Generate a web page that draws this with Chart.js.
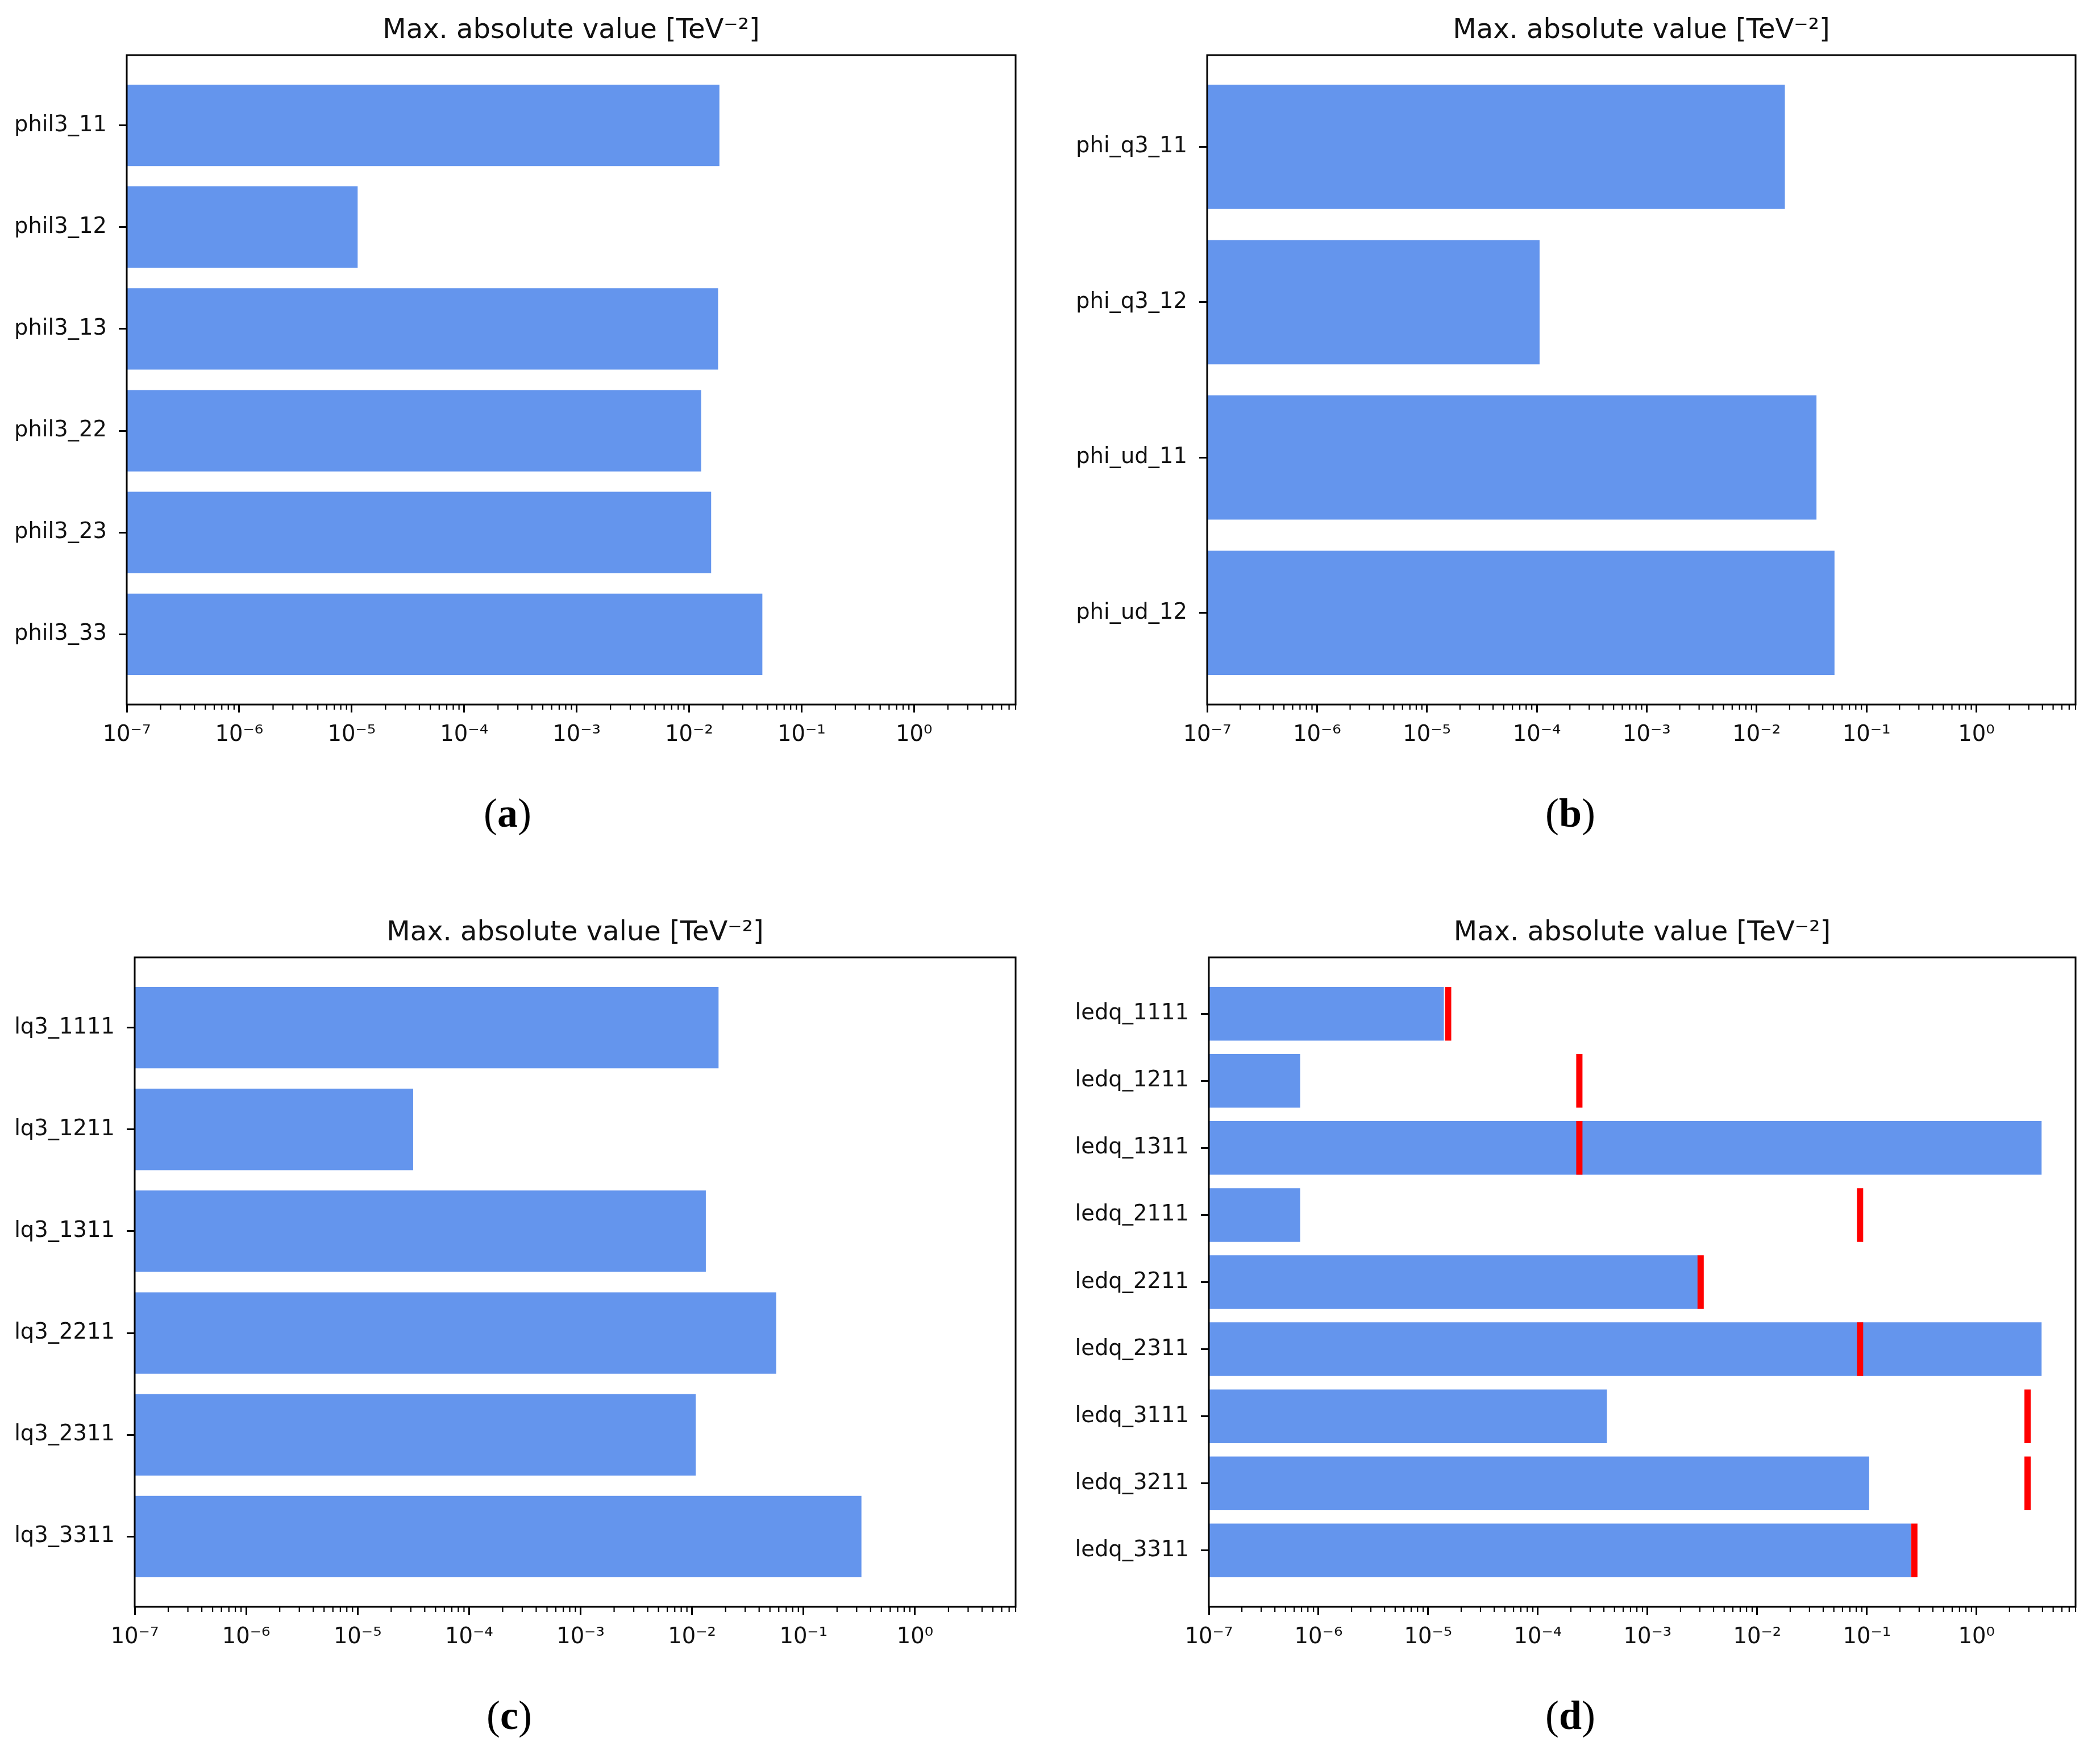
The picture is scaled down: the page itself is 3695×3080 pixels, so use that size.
<!DOCTYPE html>
<html><head><meta charset="utf-8">
<script src="https://cdn.jsdelivr.net/npm/chart.js@4.4.1/dist/chart.umd.min.js"></script>
<style>
html,body{margin:0;padding:0;background:#fff;}
#page{position:relative;width:3695px;height:3080px;background:#fff;overflow:hidden;}
canvas{position:absolute;}
.cap{position:absolute;font-family:"Liberation Serif","DejaVu Serif",serif;font-size:72px;line-height:72px;color:#000;transform:translateX(-50%);white-space:nowrap;}
</style></head><body><div id="page">
<canvas id="ca"></canvas>
<canvas id="cb"></canvas>
<canvas id="cc"></canvas>
<canvas id="cd"></canvas>
<div class="cap" style="left:893px;top:1395px">(<b>a</b>)</div>
<div class="cap" style="left:2763px;top:1395px">(<b>b</b>)</div>
<div class="cap" style="left:896px;top:2983px">(<b>c</b>)</div>
<div class="cap" style="left:2763px;top:2983px">(<b>d</b>)</div>
</div>
<script>
// ---- data ----
const TITLE = 'Max. absolute value [TeV\u207B\u00B2]';
const xTickExponents = [-7, -6, -5, -4, -3, -2, -1, 0];
const xMin = 1e-7, xMax = 8;

const catsA = ['phil3_11', 'phil3_12', 'phil3_13', 'phil3_22', 'phil3_23', 'phil3_33'];
const valsA = [0.0186, 1.13e-5, 0.0181, 0.0128, 0.0157, 0.0448];

const catsB = ['phi_q3_11', 'phi_q3_12', 'phi_ud_11', 'phi_ud_12'];
const valsB = [0.0181, 1.06e-4, 0.0351, 0.0512];

const catsC = ['lq3_1111', 'lq3_1211', 'lq3_1311', 'lq3_2211', 'lq3_2311', 'lq3_3311'];
const valsC = [0.0173, 3.15e-5, 0.0133, 0.0569, 0.0108, 0.331];

const catsD = ['ledq_1111', 'ledq_1211', 'ledq_1311', 'ledq_2111', 'ledq_2211', 'ledq_2311', 'ledq_3111', 'ledq_3211', 'ledq_3311'];
const valsD = [1.39e-5, 6.8e-7, 3.92, 6.8e-7, 2.88e-3, 3.92, 4.26e-4, 0.105, 0.252];
const limsD = [1.52e-5, 2.39e-4, 2.39e-4, 0.0867, 3.05e-3, 0.0867, 2.92, 2.92, 0.271];

// ---- layout ----
const TITLE_H = 71;   // title box height (line + pad)
const XH = 110;       // x axis height
const PADR = 12;
const FONT = 'DejaVu Sans';
const TICK_FONT = 38.5;
const TITLE_FONT = 48;

const SUP = {'-':'\u207B','0':'\u2070','1':'\u00B9','2':'\u00B2','3':'\u00B3','4':'\u2074','5':'\u2075','6':'\u2076','7':'\u2077','8':'\u2078','9':'\u2079'};
function sup(n){ return String(n).split('').map(c => SUP[c] || c).join(''); }

const framePlugin = {
  id: 'frame',
  afterDraw(chart) {
    const {ctx, chartArea: a} = chart;
    const x = chart.scales.x;
    ctx.save();
    ctx.strokeStyle = '#000';
    ctx.lineWidth = 2.2;
    for (const e of xTickExponents) {
      for (let m = 2; m <= 9; m++) {
        const v = m * Math.pow(10, e);
        if (v > xMax) continue;
        const px = x.getPixelForValue(v);
        ctx.beginPath();
        ctx.moveTo(px, a.bottom);
        ctx.lineTo(px, a.bottom + 9);
        ctx.stroke();
      }
    }
    ctx.lineWidth = 3;
    ctx.strokeRect(a.left, a.top, a.right - a.left, a.bottom - a.top);
    ctx.restore();
  }
};

function barHalf(ctx) {
  const s = ctx.chart.scales.y;
  return Math.abs(s.getPixelForValue(1) - s.getPixelForValue(0)) * 0.4;
}

function makeChart(id, box, cats, vals, lims) {
  const canvas = document.getElementById(id);
  const yW = box.L - box.left;
  const w = yW + (box.R - box.L) + PADR;
  const h = TITLE_H + (box.B - box.T) + XH;
  canvas.width = w; canvas.height = h;
  canvas.style.left = box.left + 'px';
  canvas.style.top = (box.T - TITLE_H) + 'px';
  canvas.style.width = w + 'px';
  canvas.style.height = h + 'px';
  const n = cats.length;
  const m = 0.4 + 0.05 * (n - 0.2);
  const datasets = [{
    type: 'bar', indexAxis: 'y',
    data: vals.map((v, i) => ({x: v, y: i})),
    backgroundColor: '#6495ED', borderWidth: 0,
    categoryPercentage: 1, barPercentage: 0.8, order: 2
  }];
  if (lims) {
    datasets.push({
      type: 'line', indexAxis: 'y',
      data: lims.map((v, i) => ({x: v, y: i})),
      showLine: false, pointStyle: 'line', pointRotation: 90,
      pointRadius: barHalf, pointHoverRadius: barHalf,
      pointBorderWidth: 11, pointHoverBorderWidth: 11,
      pointBorderColor: '#FF0000', pointBackgroundColor: '#FF0000',
      borderColor: '#FF0000', order: 1
    });
  }
  const tickGrid = {display: true, offset: false, drawOnChartArea: false, drawTicks: true, tickLength: 14, tickWidth: 3, tickColor: '#000'};
  const titleLine = TITLE_FONT * 1.2;
  new Chart(canvas, {
    type: 'bar',
    data: {datasets},
    options: {
      indexAxis: 'y', responsive: false, animation: false, devicePixelRatio: 1,
      events: [],
      layout: {padding: {left: 0, right: PADR, top: 0, bottom: 0}},
      plugins: {
        legend: {display: false}, tooltip: {enabled: false},
        title: {display: true, text: TITLE, fullSize: false, color: '#111',
          font: {family: FONT, size: TITLE_FONT, weight: 'normal', lineHeight: 1.2},
          padding: {top: 0, bottom: TITLE_H - titleLine}}
      },
      scales: {
        x: {
          type: 'logarithmic', position: 'bottom', min: xMin, max: xMax, offset: false,
          afterFit(s) { s.height = XH; },
          afterBuildTicks(s) { s.ticks = xTickExponents.map(e => ({value: Math.pow(10, e), major: true})); },
          border: {display: false},
          grid: tickGrid,
          ticks: {autoSkip: false, maxRotation: 0, minRotation: 0, padding: 17, color: '#111',
            font: {family: FONT, size: TICK_FONT},
            callback: (v) => '10' + sup(Math.round(Math.log10(v)))}
        },
        y: {
          type: 'linear', position: 'left', reverse: true, min: -m, max: n - 1 + m, offset: false,
          afterFit(s) { s.width = yW; },
          afterBuildTicks(s) { s.ticks = cats.map((c, i) => ({value: i})); },
          border: {display: false},
          grid: tickGrid,
          ticks: {autoSkip: false, padding: 21, color: '#111',
            font: {family: FONT, size: TICK_FONT},
            callback: (v) => (cats[v] !== undefined ? cats[v] : '')}
        }
      }
    },
    plugins: [framePlugin]
  });
}

makeChart('ca', {L: 223, R: 1787, T: 97, B: 1240, left: 0}, catsA, valsA, null);
makeChart('cb', {L: 2124, R: 3652, T: 97, B: 1240, left: 1860}, catsB, valsB, null);
makeChart('cc', {L: 237, R: 1787, T: 1685, B: 2828, left: 0}, catsC, valsC, null);
makeChart('cd', {L: 2127, R: 3652, T: 1685, B: 2828, left: 1860}, catsD, valsD, limsD);
</script>
</body></html>
